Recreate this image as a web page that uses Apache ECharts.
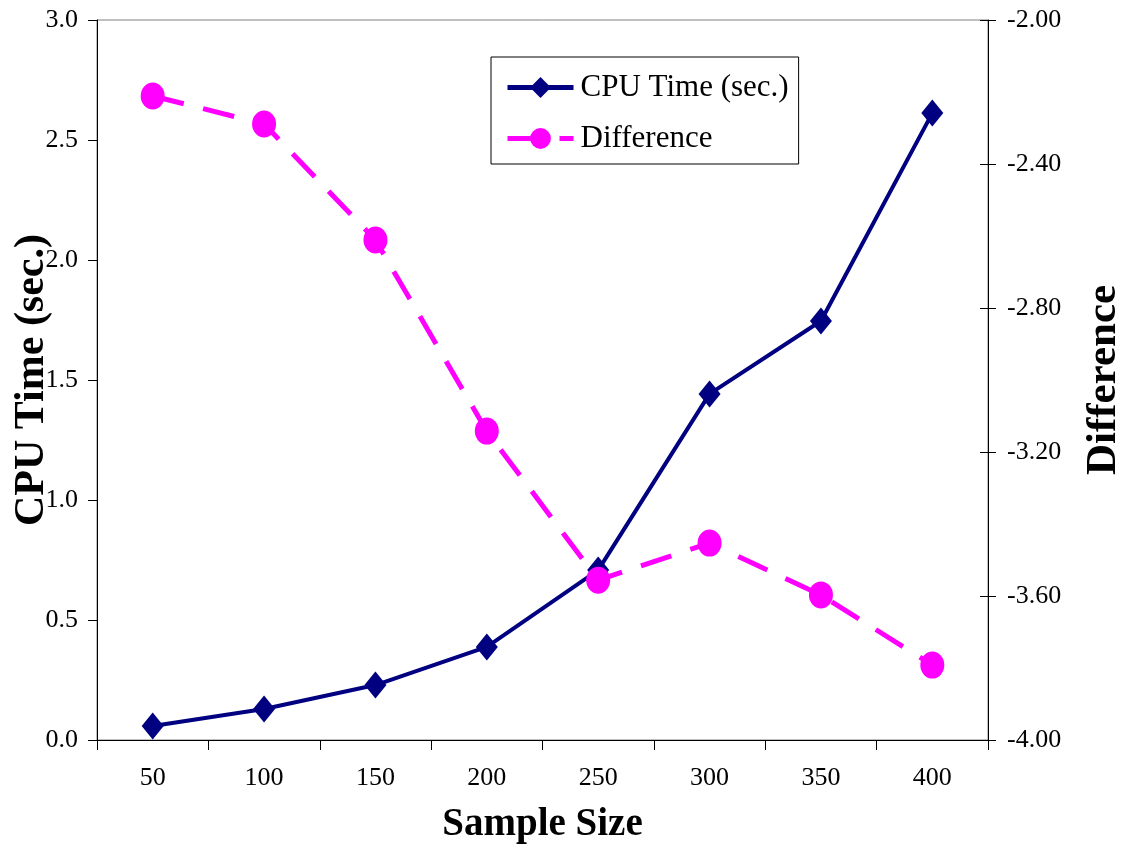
<!DOCTYPE html>
<html><head><meta charset="utf-8">
<script src="https://cdn.jsdelivr.net/npm/echarts@6/dist/echarts.min.js"></script>
<style>html,body{margin:0;padding:0;background:#fff}#c{width:1130px;height:845px}</style>
</head><body><div id="c"></div>
<script>
const categories = ['50','100','150','200','250','300','350','400'];
const cpuTime = [0.058, 0.129, 0.229, 0.388, 0.708, 1.442, 1.746, 2.612];
const difference = [-2.211, -2.289, -2.611, -3.142, -3.556, -3.453, -3.597, -3.792];
const leftTicks = {min: 0, max: 3, interval: 0.5};
const rightTicks = {min: -4, max: -2, interval: 0.4};

const F = '"Liberation Serif", "Times New Roman", serif';
const chart = echarts.init(document.getElementById('c'));
chart.setOption({
  animation: false,
  backgroundColor: '#fff',
  textStyle: {fontFamily: F},
  grid: {left: 97, right: 142, top: 20, bottom: 105, outerBoundsMode: 'none', containLabel: false,
         show: true, borderColor: '#808080', borderWidth: 1, backgroundColor: 'transparent'},
  legend: {
    orient: 'vertical', left: 491, top: 57,
    padding: [15, 10, 10, 14], itemGap: 20,
    itemWidth: 66, itemHeight: 26,
    borderColor: '#000', borderWidth: 1, backgroundColor: '#fff',
    textStyle: {fontFamily: F, fontSize: 31, lineHeight: 30, color: '#000', padding: [0, 0, 0, 2]},
    data: [
      {name: 'CPU Time (sec.)', lineStyle: {width: 5}},
      {name: 'Difference', lineStyle: {width: 5}}
    ]
  },
  xAxis: {
    type: 'category', data: categories, boundaryGap: true,
    name: 'Sample Size', nameLocation: 'middle', nameGap: 65, nameMoveOverlap: false,
    nameTextStyle: {fontFamily: F, fontSize: 39, fontWeight: 'bold', color: '#000'},
    axisLine: {lineStyle: {color: '#000', width: 1}},
    axisTick: {show: true, length: 10, lineStyle: {color: '#000'}},
    axisLabel: {fontFamily: F, fontSize: 26, color: '#000', margin: 25},
    splitLine: {show: false}
  },
  yAxis: [
    {
      type: 'value', position: 'left', min: leftTicks.min, max: leftTicks.max, interval: leftTicks.interval,
      name: 'CPU Time (sec.)', nameLocation: 'middle', nameGap: 44, nameRotate: 90, nameMoveOverlap: false,
      nameTextStyle: {fontFamily: F, fontSize: 42, fontWeight: 'bold', color: '#000'},
      axisLine: {show: true, lineStyle: {color: '#000', width: 1}},
      axisTick: {show: true, length: 9, lineStyle: {color: '#000'}},
      axisLabel: {fontFamily: F, fontSize: 26, color: '#000', margin: 19, formatter: v => v.toFixed(1)},
      splitLine: {show: false}
    },
    {
      type: 'value', position: 'right', min: rightTicks.min, max: rightTicks.max, interval: rightTicks.interval,
      name: 'Difference', nameLocation: 'middle', nameGap: 94, nameRotate: 90, nameMoveOverlap: false,
      nameTextStyle: {fontFamily: F, fontSize: 43, fontWeight: 'bold', color: '#000'},
      axisLine: {show: true, lineStyle: {color: '#000', width: 1}},
      axisTick: {show: true, length: 8, lineStyle: {color: '#000'}},
      axisLabel: {fontFamily: F, fontSize: 26, color: '#000', margin: 19, formatter: v => v.toFixed(2)},
      splitLine: {show: false}
    },
    {
      type: 'value', position: 'right', min: rightTicks.min, max: rightTicks.max, interval: rightTicks.interval,
      axisLine: {show: false},
      axisTick: {show: true, inside: true, length: 8, lineStyle: {color: '#000'}},
      axisLabel: {show: false},
      splitLine: {show: false}
    }
  ],
  series: [
    {
      name: 'CPU Time (sec.)', type: 'line', yAxisIndex: 0, data: cpuTime,
      symbol: 'diamond', symbolSize: [22, 27],
      lineStyle: {color: '#000080', width: 4},
      itemStyle: {color: '#000080'}
    },
    {
      name: 'Difference', type: 'line', yAxisIndex: 1, data: difference,
      symbol: 'circle', symbolSize: [24, 27],
      lineStyle: {color: '#FF00FF', width: 5, type: [32, 20]},
      itemStyle: {color: '#FF00FF'}
    }
  ]
});
</script></body></html>
